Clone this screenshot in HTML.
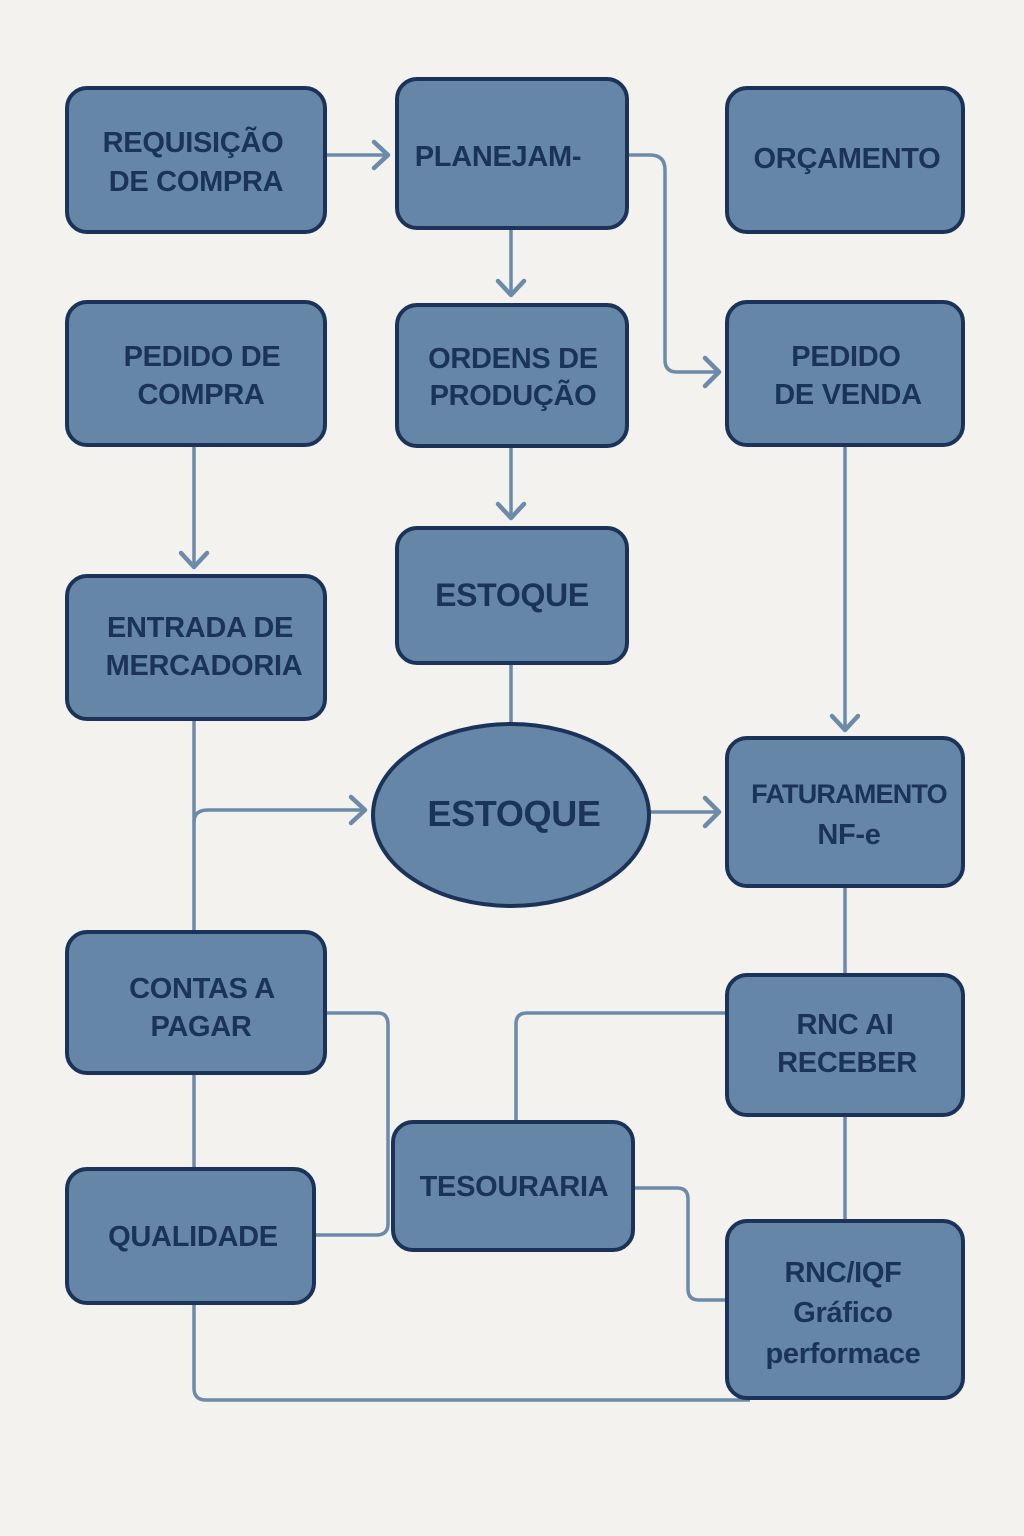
<!DOCTYPE html>
<html><head><meta charset="utf-8"><style>
body{margin:0;width:1024px;height:1536px;background:#f4f2ee;overflow:hidden}
svg{position:absolute;left:0;top:0}
text{font-family:"Liberation Sans",sans-serif;font-size:29px;fill:#1b3358;text-anchor:middle;font-weight:bold;letter-spacing:-0.3px}
.b{fill:#6586a6;stroke:#1b3358;stroke-width:4}
.l{fill:none;stroke:#6c8aaa;stroke-width:3.5}
.a{fill:none;stroke:#6c8aaa;stroke-width:4.5;stroke-linecap:round;stroke-linejoin:round}
</style></head><body>
<svg width="1024" height="1536">
<g class="l">
<path d="M325 155H386"/><path d="M511 228V294"/>
<path d="M627 155H650Q665 155 665 170V360Q665 372 677 372H717"/>
<path d="M194 445V566"/><path d="M511 446V517"/><path d="M511 663V724"/>
<path d="M845 445V729"/>
<path d="M194 719V932"/><path d="M194 822Q194 810 208 810H364"/>
<path d="M650 812H717"/><path d="M845 886V975"/><path d="M194 1073V1169"/>
<path d="M325 1013H378Q388 1013 388 1025V1224Q388 1235 376 1235H314"/>
<path d="M727 1013H527Q516 1013 516 1024V1122"/>
<path d="M633 1188H677Q688 1188 688 1199V1289Q688 1300 699 1300H727"/>
<path d="M845 1115V1221"/>
<path d="M194 1303V1388Q194 1400 206 1400H750"/>
</g>
<g class="a">
<path d="M374 142L388 155L374 168"/><path d="M498 281L511 295L524 281"/>
<path d="M705 358L719 372L705 386"/><path d="M181 553L194 567L207 553"/>
<path d="M498 504L511 518L524 504"/><path d="M832 716L845 730L858 716"/>
<path d="M351 797L365 810L351 823"/><path d="M705 798L719 812L705 826"/>
</g>
<rect class="b" x="67" y="88" width="258" height="144" rx="20"/>
<rect class="b" x="397" y="79" width="230" height="149" rx="20"/>
<rect class="b" x="727" y="88" width="236" height="144" rx="20"/>
<rect class="b" x="67" y="302" width="258" height="143" rx="20"/>
<rect class="b" x="397" y="305" width="230" height="141" rx="20"/>
<rect class="b" x="727" y="302" width="236" height="143" rx="20"/>
<rect class="b" x="67" y="576" width="258" height="143" rx="20"/>
<rect class="b" x="397" y="528" width="230" height="135" rx="20"/>
<ellipse class="b" cx="511" cy="815" rx="138" ry="91"/>
<rect class="b" x="727" y="738" width="236" height="148" rx="20"/>
<rect class="b" x="67" y="932" width="258" height="141" rx="20"/>
<rect class="b" x="727" y="975" width="236" height="140" rx="20"/>
<rect class="b" x="393" y="1122" width="240" height="128" rx="20"/>
<rect class="b" x="67" y="1169" width="247" height="134" rx="20"/>
<rect class="b" x="727" y="1221" width="236" height="177" rx="20"/>
<text x="193" y="152">REQUISIÇÃO</text><text x="196" y="191">DE COMPRA</text>
<text x="498" y="166">PLANEJAM-</text>
<text x="847" y="168">ORÇAMENTO</text>
<text x="202" y="366">PEDIDO DE</text><text x="201" y="404">COMPRA</text>
<text x="513" y="368">ORDENS DE</text><text x="513" y="405">PRODUÇÃO</text>
<text x="846" y="366">PEDIDO</text><text x="848" y="404">DE VENDA</text>
<text x="200" y="637">ENTRADA DE</text><text x="204" y="675">MERCADORIA</text>
<text x="512" y="606" style="font-size:32px">ESTOQUE</text>
<text x="514" y="826" style="font-size:36px">ESTOQUE</text>
<text x="849" y="803" style="font-size:27px;letter-spacing:-0.8px">FATURAMENTO</text><text x="849" y="844">NF-e</text>
<text x="202" y="998">CONTAS A</text><text x="201" y="1036">PAGAR</text>
<text x="845" y="1034">RNC AI</text><text x="847" y="1072">RECEBER</text>
<text x="514" y="1196">TESOURARIA</text>
<text x="193" y="1246">QUALIDADE</text>
<text x="843" y="1282">RNC/IQF</text><text x="843" y="1322">Gráfico</text><text x="843" y="1363">performace</text>
</svg>
</body></html>
